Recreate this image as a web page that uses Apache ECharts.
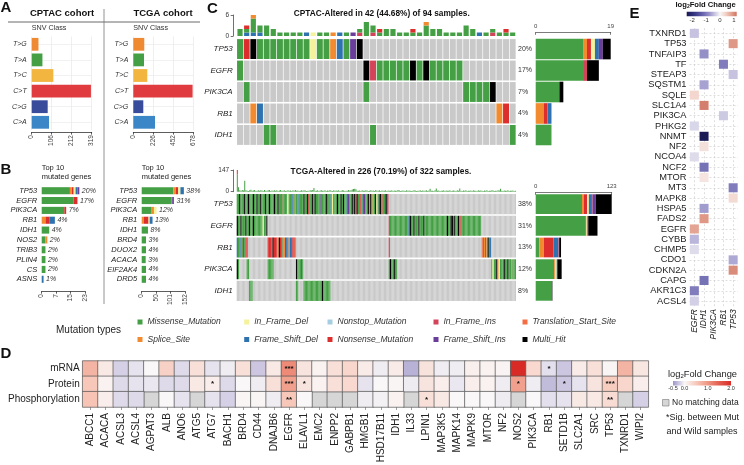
<!DOCTYPE html>
<html>
<head>
<meta charset="utf-8">
<script src="https://cdn.jsdelivr.net/npm/echarts@6.0.0/dist/echarts.min.js"></script>
<style>html,body{margin:0;padding:0;background:#fff;}#chart{width:744px;height:465px;}</style>
</head>
<body>
<div id="chart"></div>
<script>
// ======================= DATA =======================
const mutTypes = ['Missense_Mutation','Splice_Site','Nonsense_Mutation','In_Frame_Del','Nonstop_Mutation','Frame_Shift_Del','In_Frame_Ins','Frame_Shift_Ins','Translation_Start_Site','Multi_Hit'];
const mutCodes = ['M','S','N','D','O','F','I','J','T','X'];

// Panel A: SNV classes
const snvClasses = ['T>G','T>A','T>C','C>T','C>G','C>A'];
const snvCptac = [36, 57, 115, 315, 85, 92];
const snvTcga = [124, 121, 158, 670, 113, 245];
const snvCptacMax = 319, snvTcgaMax = 678;
const snvCptacTicks = ['0','106','212','319'];
const snvTcgaTicks = ['0','226','452','678'];

// Panel B: top 10 mutated genes (segments: type code + count)
const topCptacGenes = ['TP53','EGFR','PIK3CA','RB1','IDH1','NOS2','TRIB3','PLIN4','CS','ASNS'];
const topCptacPct = ['20%','17%','7%','4%','4%','2%','2%','2%','2%','1%'];
const topCptacSegs = ['M15SNDFJ','M17N2','M12N','S2N2F3','M4','M2S','M2','M2','M2','F'];
const topCptacMax = 23, topCptacTicks = ['0','7','15','23'];
const topTcgaGenes = ['TP53','EGFR','PIK3CA','RB1','IDH1','BRD4','DUOX2','ACACA','EIF2AK4','DRD5'];
const topTcgaPct = ['38%','31%','12%','13%','8%','3%','4%','3%','4%','4%'];
const topTcgaSegs = ['M111S9N8D8F12','M105I2J6','M35S8D9','N16S8D4F10','M22','M15','M15','M14','M15','M15'];
const topTcgaMax = 152, topTcgaTicks = ['0','50','101','152'];

// Panel C: oncoplots (one code per altered sample, '.' = not mutated)
const cptacTitle = 'CPTAC-Altered in 42 (44.68%) of 94 samples.';
const cptacGenes = ['TP53','EGFR','PIK3CA','RB1','IDH1'];
const cptacPct = ['20%','17%','7%','4%','4%'];
const cptacOnco = [
  'MNXM8DM2SFMJX.23',
  'M.18XIM5XMXM5.8',
  '.M.17M.14M4X.3',
  '.2SF.35SN.',
  '.4M2.14M.20M'
];
const cptacTmb = ['MM','FMN','FMMMMS','FMM','MMM','MM','M','M','M','M','F','D','M','M','S','F','M','J','IM','MMMM',
  'IMM','MN','MM','MM','M','M','NM','M','MMMS','MM','MM','M','M','M','MMM','MM','F','M','IM','M','MN','M'];
const cptacTopMax = 6, cptacRightMax = 19;

const tcgaTitle = 'TCGA-Altered in 226 (70.19%) of 322 samples.';
const tcgaGenes = ['TP53','EGFR','RB1','PIK3CA','IDH1'];
const tcgaPct = ['38%','31%','13%','12%','8%'];
const tcgaOnco = [
  'M2XM3XM2XM3XM2XM2XM3XM2XM3XM2XM2NM4D' + 'M3FMSM2FM3XM2XNM2XMXM3JM4XM2FMD' + 'M3XM2XMXM2FJM2XMXNXM2NMFJM2XSXMSMXDMJXMNMJXI' + '.103',
  'XM2XM3XM2XM2XM7DM2X.98IM15FXM2XM3XM3XM18XM2X2MXM2XMNM16.28',
  'FM2FMNMN2.16N4XN3SXN2MSNF2SF2N2S.75I.74SNSFSXMF.20',
  'XM.6M2.15M5.18XM3FM.69MXM2XM2.76MDM2XSDM3XM2XM2SM3',
  '.10M3.35M2.4M15XM6.150'
];
const tcgaTmbMissense = [
  117,30,9,6,12,8,75,10,7,5,9,14,6,8,11,5,7,9,6,10,
  8,5,12,7,6,9,11,5,8,7,10,6,9,5,8,12,7,6,9,5,
  7,10,6,8,5,9,7,11,6,8,5,7,9,6,10,8,5,7,6,9,
  8,12,25,7,6,9,5,8,10,6,7,9,5,8,6,11,7,5,9,6,
  8,7,10,5,6,9,8,5,7,6,12,8,9,15,18,20,16,7,6,8,
  5,9,7,6,10,8,5,7,9,6,8,5,11,7,6,9,5,8,7,6,
  9,5,8,7,6,10,5,8,6,7,12,9,5,6,8,7,5,9,6,8,
  7,5,6,9,8,5,7,6,10,5,8,6,7,9,5,8,20,6,7,5,
  9,22,6,8,5,7,6,9,5,8,6,7,10,5,6,8,7,5,9,6,
  22,7,5,8,6,9,5,7,6,8,5,10,6,7,5,9,6,8,7,5,
  8,6,9,5,7,6,10,8,5,7,6,9,8,20,6,5,8,7,6,9,
  5,7,6,8,5,6
];
const tcgaTmbOtherCols = [0];
const tcgaTmbOtherVals = [30];
const tcgaTopMax = 147, tcgaRightMax = 123;

// Panel D: log2 fold change heatmap
const dGenes = ['ABCC1','ACACA','ACSL3','ACSL4','AGPAT3','ALB','ANO6','ATG5','ATG7','BACH1','BRD4','CD44','DNAJB6','EGFR','ELAVL1','EMC2','ENPP2','GABPB1','HMGB1','HSD17B11','IDH1','IL33','LPIN1','MAP3K5','MAPK14','MAPK9','MTOR','NF2','NOS2','PIK3CA','RB1','SETD1B','SLC2A1','SRC','TP53','TXNRD1','WIPI2'];
const dRows = ['mRNA','Protein','Phosphorylation'];
const dMrna = [0.7,0.15,-0.2,-0.1,0.0,0.4,-0.15,0.25,-0.1,-0.05,0.25,-0.25,0.15,1.1,0.2,0.05,0.25,0.35,0.12,-0.05,0.12,-0.35,0.22,-0.05,-0.05,0.08,0.05,0.03,2.0,0.33,-0.12,-0.25,0.12,0.25,0.02,0.7,0.18];
const dProtein = [0.5,0.05,-0.15,-0.1,-0.08,-0.15,-0.15,0.15,0.1,-0.15,0.0,-0.05,0.25,0.9,0.2,0.05,0.25,0.33,-0.1,0.0,0.02,-0.06,0.2,0.1,-0.08,0.1,0.05,-0.05,0.9,-0.05,-0.3,-0.25,-0.1,0.2,0.45,0.35,0.1];
const dPhospho = [0.55,0.1,-0.15,-0.15,null,0.0,-0.1,null,-0.1,-0.2,0.02,0.02,-0.05,0.5,0.0,null,null,null,-0.05,-0.03,0.05,null,0.25,0.15,0.0,0.0,0.0,-0.06,null,0.0,-0.12,-0.1,0.15,0.15,0.3,null,-0.2];
const dSigMrna = {EGFR:'***', RB1:'*'};
const dSigProtein = {ATG7:'*', EGFR:'***', ELAVL1:'*', NOS2:'*', SETD1B:'*', TP53:'***'};
const dSigPhospho = {EGFR:'**', LPIN1:'*', TP53:'**'};
const dScaleTicks = [-0.5, 0, 1, 2];

// Panel E
const eGenes = ['TXNRD1','TP53','TNFAIP3','TF','STEAP3','SQSTM1','SQLE','SLC1A4','PIK3CA','PHKG2','NNMT','NF2','NCOA4','NCF2','MTOR','MT3','MAPK8','HSPA5','FADS2','EGFR','CYBB','CHMP5','CDO1','CDKN2A','CAPG','AKR1C3','ACSL4'];
const eMutGenes = ['EGFR','IDH1','PIK3CA','RB1','TP53'];
const eMutOf = ['EGFR','TP53','IDH1','RB1','TP53','IDH1','EGFR','IDH1','RB1','EGFR','IDH1','IDH1','EGFR','IDH1','IDH1','TP53','TP53','IDH1','IDH1','EGFR','EGFR','EGFR','TP53','TP53','IDH1','EGFR','EGFR'];
const eFc = [-0.4,0.9,-0.8,-1.0,-0.4,-0.65,0.35,1.1,-0.35,-0.25,-2.4,0.25,-0.2,-1.1,0.2,-1.0,0.3,-0.7,0.9,0.8,-0.5,-0.2,-0.6,1.0,-1.1,-1.0,-0.3];
const eScaleTicks = [-2, -1, 0, 1];

// ======================= STYLE =======================
const FONT = '"Liberation Sans", Arial, Helvetica, sans-serif';
const mutColors = ['#45a045','#f28a30','#dd2e2e','#f4f29a','#a6cee3','#2e72b0','#d3435a','#6a3d9a','#f46d43','#000000'];
const snvColors = ['#f08a32','#45a045','#f2b53f','#e03c40','#394b9b','#3b86c6'];
const grayCell = '#c9c9c9';
const dColors = ['#9e95c9','#f9f7f7','#f7c8ba','#ef9682','#e45c4e','#d92b26'];
const dMin = -0.5, dMax = 2.0;
const eColors = ['#1a1a55','#2d2d78','#4a4895','#6c68b0','#958fc8','#c6c2e0','#f7f7f7','#f2d2c8','#e4a493','#cf7360'];
const eMin = -2.4, eMax = 1.2;

// ======================= HELPERS =======================
function expand(spec){const out=[];spec.replace(/([A-Z.])(\d*)/g,(m,c,n)=>{const k=n?parseInt(n,10):1;for(let i=0;i<k;i++)out.push(c);return m;});return out;}
function counts(spec){const a=mutCodes.map(()=>0);expand(spec).forEach(c=>{const k=mutCodes.indexOf(c);if(k>=0)a[k]++;});return a;}
function sampleIdx(n){return Array.from({length:n},(_,i)=>'S'+(i+1));}
function oncoData(rows){const d=[];rows.forEach((s,gi)=>{expand(s).forEach((c,ci)=>{d.push([ci,gi,mutCodes.indexOf(c)]);});});return d;}
function oncoRender(gx,gy){return function(params,api){const c=api.coord([api.value(0),api.value(1)]);const s=api.size([1,1]);const t=api.value(2);
  return {type:'rect',shape:{x:c[0]-s[0]/2+gx,y:c[1]-s[1]/2+gy,width:Math.max(0.3,s[0]-2*gx),height:s[1]-2*gy},style:{fill:t<0?grayCell:mutColors[t]}};};}

const grids = [
  {left:31.7, top:36.5, width:60, height:93.6},
  {left:133.3, top:36.5, width:60, height:93.6},
  {left:41.7, top:185.8, width:43.3, height:98.4},
  {left:141.7, top:185.8, width:43.3, height:98.4},
  {left:236.7, top:15, width:279.3, height:21},
  {left:236.7, top:38.3, width:279.3, height:107.4},
  {left:535.7, top:38.3, width:75, height:107.4},
  {left:236.7, top:170, width:279.3, height:21.7},
  {left:236.7, top:193.3, width:279.3, height:108.4},
  {left:535.7, top:193.3, width:76, height:108.4},
  {left:82.7, top:361, width:565.6, height:46},
  {left:689.5, top:28.2, width:48.5, height:278}
];

const xAxes=[], yAxes=[], series=[];
function addX(o){xAxes.push(o);return xAxes.length-1;}
function addY(o){yAxes.push(o);return yAxes.length-1;}
const noLine={show:false}, noTick={show:false};

// ---------- Panel A ----------
[[0,snvCptac,snvCptacMax,snvCptacTicks],[1,snvTcga,snvTcgaMax,snvTcgaTicks]].forEach(([gi,vals,mx,ticks])=>{
  const xi=addX({gridIndex:gi,type:'value',min:0,max:mx,interval:mx/3,offset:2,
    axisLine:{show:true,lineStyle:{color:'#333',width:0.8}},
    axisTick:{show:true,length:2.5,lineStyle:{color:'#333',width:0.8}},
    axisLabel:{rotate:90,fontSize:6.5,color:'#444',margin:3,formatter:(v,i)=>ticks[i]!==undefined?ticks[i]:''},
    splitLine:{show:true,lineStyle:{color:'#ebebeb',width:0.8}}});
  const yi=addY({gridIndex:gi,type:'category',data:snvClasses,inverse:true,axisLine:noLine,axisTick:noTick,
    axisLabel:{fontSize:7,fontStyle:'italic',color:'#333',margin:5,interval:0},
    splitLine:{show:true,alignWithLabel:true,lineStyle:{color:'#ededed',width:0.8}}});
  series.push({type:'bar',xAxisIndex:xi,yAxisIndex:yi,barCategoryGap:'18%',silent:true,
    data:vals.map((v,i)=>({value:v,itemStyle:{color:snvColors[i]}}))});
});

// ---------- Panel B ----------
[[2,topCptacGenes,topCptacSegs,topCptacPct,topCptacMax,topCptacTicks],[3,topTcgaGenes,topTcgaSegs,topTcgaPct,topTcgaMax,topTcgaTicks]].forEach(([gi,genes,segs,pct,mx,ticks])=>{
  const xi=addX({gridIndex:gi,type:'value',min:0,max:mx,interval:mx/3,offset:7,
    axisLine:{show:true,lineStyle:{color:'#333',width:0.8}},
    axisTick:{show:true,length:2.5,lineStyle:{color:'#333',width:0.8}},
    axisLabel:{rotate:90,fontSize:6.5,color:'#444',margin:3,formatter:(v,i)=>ticks[i]!==undefined?ticks[i]:''},
    splitLine:{show:false}});
  const yi=addY({gridIndex:gi,type:'category',data:genes,inverse:true,axisLine:noLine,axisTick:noTick,
    axisLabel:{fontSize:7.5,fontStyle:'italic',color:'#222',margin:4.5,interval:0}});
  const cs=segs.map(counts);
  mutTypes.forEach((name,k)=>{
    series.push({type:'bar',name,xAxisIndex:xi,yAxisIndex:yi,stack:'b'+gi,barCategoryGap:'28%',silent:true,
      itemStyle:{color:mutColors[k]},data:cs.map(a=>a[k])});
  });
  series.push({type:'bar',xAxisIndex:xi,yAxisIndex:yi,stack:'b'+gi,barCategoryGap:'28%',silent:true,
    data:genes.map(()=>0),
    label:{show:true,position:'right',distance:2.5,fontSize:7,fontStyle:'italic',color:'#333',formatter:p=>pct[p.dataIndex]}});
});

// ---------- Panel C ----------
const topStackOrder = ['F','I','D','O','J','M','N','T','S','X'];
function cPanel(gTop,gOnco,gRight,genes,pct,onco,topMax,rightMax,gx,rightGap,rightOffset,topBuilder){
  const nS=expand(onco[0]).length;
  const xT=addX({gridIndex:gTop,type:'category',data:sampleIdx(nS),show:false});
  const yT=addY({gridIndex:gTop,type:'value',min:0,max:topMax,interval:topMax,offset:3.5,
    axisLine:{show:true,lineStyle:{color:'#333',width:0.7}},
    axisTick:{show:true,length:2.5,lineStyle:{color:'#333',width:0.7}},
    axisLabel:{fontSize:6.5,color:'#333',margin:4},splitLine:{show:false}});
  topBuilder(xT,yT);
  const xO=addX({gridIndex:gOnco,type:'category',data:sampleIdx(nS),show:false});
  const yO=addY({gridIndex:gOnco,type:'category',data:genes,inverse:true,axisLine:noLine,axisTick:noTick,
    axisLabel:{fontSize:8,fontStyle:'italic',color:'#222',margin:4,interval:0}});
  addY({gridIndex:gOnco,type:'category',position:'right',data:pct,inverse:true,axisLine:noLine,axisTick:noTick,
    axisLabel:{fontSize:7,color:'#333',margin:2,interval:0}});
  series.push({type:'custom',xAxisIndex:xO,yAxisIndex:yO,renderItem:oncoRender(gx,0.8),data:oncoData(onco),silent:true});
  const xR=addX({gridIndex:gRight,type:'value',position:'top',min:0,max:rightMax,interval:rightMax,offset:rightOffset,
    axisLine:{show:true,lineStyle:{color:'#444',width:0.7}},
    axisTick:{show:true,inside:true,length:2.5,lineStyle:{color:'#444',width:0.7}},
    axisLabel:{fontSize:6,color:'#444',margin:3},splitLine:{show:false}});
  const yR=addY({gridIndex:gRight,type:'category',data:genes,inverse:true,show:false});
  const cs=onco.map(counts);
  mutTypes.forEach((name,k)=>{
    series.push({type:'bar',name,xAxisIndex:xR,yAxisIndex:yR,stack:'r'+gRight,barCategoryGap:rightGap,silent:true,
      itemStyle:{color:mutColors[k]},data:cs.map(a=>a[k])});
  });
}
cPanel(4,5,6,cptacGenes,cptacPct,cptacOnco,cptacTopMax,cptacRightMax,0.35,'4%',6,(xT,yT)=>{
  topStackOrder.forEach(code=>{
    const k=mutCodes.indexOf(code);
    series.push({type:'bar',name:mutTypes[k],xAxisIndex:xT,yAxisIndex:yT,stack:'top1',barCategoryGap:'22%',silent:true,
      itemStyle:{color:mutColors[k]},data:cptacTmb.map(s=>expand(s).filter(c=>c===code).length)});
  });
});
cPanel(7,8,9,tcgaGenes,tcgaPct,tcgaOnco,tcgaTopMax,tcgaRightMax,0,'9%',1,(xT,yT)=>{
  series.push({type:'bar',name:mutTypes[0],xAxisIndex:xT,yAxisIndex:yT,stack:'top2',barCategoryGap:'25%',silent:true,
    itemStyle:{color:mutColors[0]},data:tcgaTmbMissense});
  const other=tcgaTmbMissense.map(()=>0);
  tcgaTmbOtherCols.forEach((c,i)=>{other[c]=tcgaTmbOtherVals[i];});
  series.push({type:'bar',name:mutTypes[2],xAxisIndex:xT,yAxisIndex:yT,stack:'top2',barCategoryGap:'25%',silent:true,
    itemStyle:{color:mutColors[2]},data:other});
});

// ---------- Panel D ----------
const xD=addX({gridIndex:10,type:'category',data:dGenes,axisLine:noLine,
  axisTick:{show:true,alignWithLabel:true,length:3,lineStyle:{color:'#777',width:0.7}},
  axisLabel:{rotate:90,fontSize:10,color:'#222',margin:6,interval:0},splitLine:{show:false}});
const yD=addY({gridIndex:10,type:'category',data:dRows,inverse:true,axisLine:noLine,axisTick:noTick,
  axisLabel:{fontSize:10,color:'#222',margin:3,interval:0}});
const dVals=[dMrna,dProtein,dPhospho], dSigs=[dSigMrna,dSigProtein,dSigPhospho];
const dData=[], dNa=[];
dVals.forEach((row,r)=>row.forEach((v,c)=>{
  if(v===null){dNa.push([c,r,0]);return;}
  const s=dSigs[r][dGenes[c]];
  dData.push(s?{value:[c,r,v],label:{show:true,formatter:s}}:[c,r,v]);
}));
series.push({type:'heatmap',xAxisIndex:xD,yAxisIndex:yD,data:dNa,silent:true,
  itemStyle:{color:'#d6d6d6',borderColor:'#555',borderWidth:0.7},emphasis:{disabled:true}});
const dIdx=series.length;
series.push({type:'heatmap',xAxisIndex:xD,yAxisIndex:yD,data:dData,silent:true,
  itemStyle:{borderColor:'#555',borderWidth:0.7},emphasis:{disabled:true},
  label:{show:false,fontSize:8,color:'#111',fontWeight:'bold'}});

// ---------- Panel E ----------
const eSplit={show:true,alignWithLabel:true,lineStyle:{color:'#c8c8c8',width:0.6,type:[2,2]}};
const xE=addX({gridIndex:11,type:'category',data:eMutGenes,axisLine:noLine,axisTick:noTick,
  axisLabel:{rotate:90,fontSize:8.5,fontStyle:'italic',color:'#222',margin:3,interval:0},splitLine:eSplit});
const yE=addY({gridIndex:11,type:'category',data:eGenes,inverse:true,axisLine:noLine,axisTick:noTick,
  axisLabel:{fontSize:9.3,color:'#222',margin:3,interval:0},splitLine:eSplit});
const eIdx=series.length;
series.push({type:'custom',xAxisIndex:xE,yAxisIndex:yE,silent:true,
  data:eGenes.map((g,i)=>[eMutGenes.indexOf(eMutOf[i]),i,eFc[i]]),
  renderItem:(params,api)=>{const c=api.coord([api.value(0),api.value(1)]);const s=api.size([1,1]);const w=s[0]*0.93,h=s[1]*0.88;
    return {type:'rect',shape:{x:c[0]-w/2,y:c[1]-h/2,width:w,height:h},style:{fill:api.visual('color')}};}});

// ---------- Legends (mutation types) ----------
const legendCols=[['Missense_Mutation','Splice_Site'],['In_Frame_Del','Frame_Shift_Del'],['Nonstop_Mutation','Nonsense_Mutation'],['In_Frame_Ins','Frame_Shift_Ins'],['Translation_Start_Site','Multi_Hit']];
const legendLefts=[137.5,244.2,327.5,433.5,522.5];
const legends=legendCols.map((d,i)=>({data:d,left:legendLefts[i],top:317.5,orient:'vertical',icon:'rect',itemWidth:5,itemHeight:5,itemGap:8.5,padding:0,selectedMode:false,
  textStyle:{fontSize:8.5,fontStyle:'italic',color:'#333',fontFamily:FONT}}));

// ---------- Graphic texts / decorations ----------
function txt(text,x,y,size,opt){return {type:'text',x,y,silent:true,style:Object.assign({text,fontSize:size,fontFamily:FONT,fill:'#111',align:'left',verticalAlign:'middle'},opt||{})};}
function gradStops(cols){return cols.map((c,i)=>({offset:i/(cols.length-1),color:c}));}
const graphic=[
  txt('A',0.5,0,15,{fontWeight:'bold',verticalAlign:'top'}),
  txt('B',0.5,162.5,15,{fontWeight:'bold',verticalAlign:'top'}),
  txt('C',207,1,15,{fontWeight:'bold',verticalAlign:'top'}),
  txt('D',0.5,346,15,{fontWeight:'bold',verticalAlign:'top'}),
  txt('E',629.5,6,15,{fontWeight:'bold',verticalAlign:'top'}),
  txt('CPTAC cohort',62,13,9.5,{fontWeight:'bold',align:'center'}),
  txt('TCGA cohort',163,13,9.5,{fontWeight:'bold',align:'center'}),
  {type:'line',silent:true,shape:{x1:8,y1:22,x2:200,y2:22},style:{stroke:'#444',lineWidth:0.8}},
  {type:'line',silent:true,shape:{x1:104,y1:9,x2:104,y2:304},style:{stroke:'#777',lineWidth:0.8}},
  txt('SNV Class',31.7,28.5,7.2,{fill:'#333'}),
  txt('SNV Class',133.3,28.5,7.2,{fill:'#333'}),
  txt('Top 10',41.7,168,7.5,{fill:'#222'}),
  txt('mutated genes',41.7,177,7.5,{fill:'#222'}),
  txt('Top 10',141.7,168,7.5,{fill:'#222'}),
  txt('mutated genes',141.7,177,7.5,{fill:'#222'}),
  txt(cptacTitle,381.7,14,8.3,{fontWeight:'bold',align:'center'}),
  txt(tcgaTitle,381,171.7,8.3,{fontWeight:'bold',align:'center'}),
  txt('Mutation types',56,330,10,{fill:'#222'}),
  // D legend
  {type:'text',x:668,y:374,silent:true,style:{text:'{a|log}{b|2}{a|Fold Change}',verticalAlign:'middle',align:'left',fontFamily:FONT,
    rich:{a:{fontSize:9.3,fill:'#222',fontFamily:FONT},b:{fontSize:6,fill:'#222',fontFamily:FONT,padding:[4,0,0,0]}}}},
  {type:'rect',silent:true,shape:{x:673,y:381,width:58,height:4.5},style:{fill:new echarts.graphic.LinearGradient(0,0,1,0,gradStops(dColors))}},
  ...dScaleTicks.map(v=>txt(v.toFixed(1),673+(v-dMin)/(dMax-dMin)*58,388.5,5.5,{align:'center',fill:'#333'})),
  {type:'rect',silent:true,shape:{x:662.5,y:399.5,width:6.5,height:6.5},style:{fill:'#d6d6d6',stroke:'#777',lineWidth:0.6}},
  txt('No matching data',672,403,8.5,{fill:'#222'}),
  txt('*Sig. between Mut',666,418,9,{fill:'#222'}),
  txt('and Wild samples',666.5,431.7,9,{fill:'#222'}),
  // E legend
  {type:'text',x:675.5,y:5,silent:true,style:{text:'{a|log}{b|2}{a|Fold Change}',verticalAlign:'middle',align:'left',fontFamily:FONT,
    rich:{a:{fontSize:7.6,fontWeight:'bold',fill:'#111',fontFamily:FONT},b:{fontSize:5,fontWeight:'bold',fill:'#111',fontFamily:FONT,padding:[4,0,0,0]}}}},
  {type:'rect',silent:true,shape:{x:686.7,y:11.7,width:50,height:4.6},style:{fill:new echarts.graphic.LinearGradient(0,0,1,0,gradStops(eColors))}},
  ...eScaleTicks.map(v=>txt(String(v),686.7+(v-eMin)/(eMax-eMin)*50,20,6,{align:'center',fill:'#333'}))
];

const chart=echarts.init(document.getElementById('chart'),null,{renderer:'canvas'});
chart.setOption({
  animation:false,
  backgroundColor:'#ffffff',
  textStyle:{fontFamily:FONT},
  grid:grids.map(g=>Object.assign({containLabel:false,outerBoundsMode:'none'},g)),
  xAxis:xAxes,
  yAxis:yAxes,
  legend:legends,
  visualMap:[
    {type:'continuous',show:false,seriesIndex:dIdx,dimension:2,min:dMin,max:dMax,inRange:{color:dColors}},
    {type:'continuous',show:false,seriesIndex:eIdx,dimension:2,min:eMin,max:eMax,inRange:{color:eColors}}
  ],
  series,
  graphic
});
</script>
</body>
</html>
